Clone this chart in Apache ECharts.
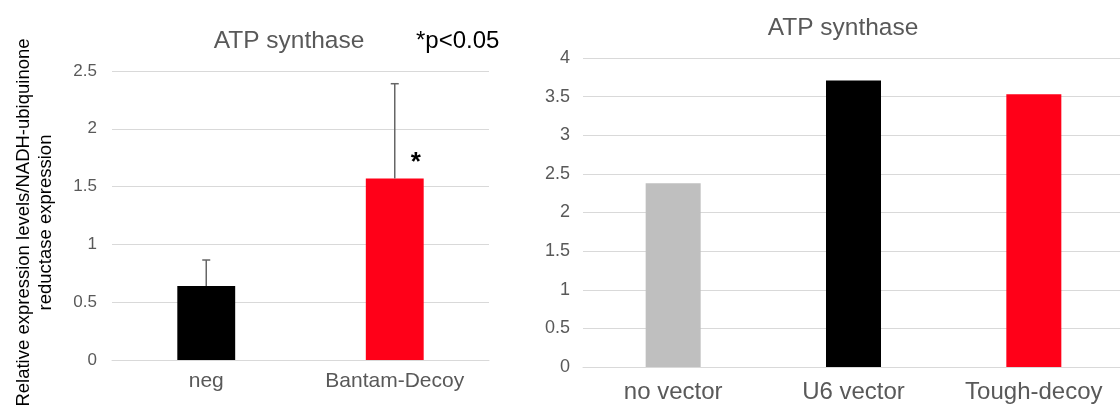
<!DOCTYPE html>
<html>
<head>
<meta charset="utf-8">
<title>ATP synthase</title>
<script src="https://cdn.jsdelivr.net/npm/echarts@6/dist/echarts.min.js"></script>
<style>
  html, body { margin: 0; padding: 0; background: #fff; }
  #chart { width: 1120px; height: 407px; }
</style>
</head>
<body>
<div id="chart"></div>
<script>
// left panel: relative expression with error bars
var leftCategories = ['neg', 'Bantam-Decoy']
var leftValues = [0.64, 1.57]
var leftErrors = [0.225, 0.82]
var leftSignif = ['', '*']
var leftTicks = [0, 0.5, 1, 1.5, 2, 2.5]

// right panel
var rightCategories = ['no vector', 'U6 vector', 'Tough-decoy']
var rightValues = [2.38, 3.71, 3.53]
var rightTicks = [0, 0.5, 1, 1.5, 2, 2.5, 3, 3.5, 4]

var leftColors = ['#000000', '#ff0018']
var rightColors = ['#bfbfbf', '#000000', '#ff0018']
var FONT = '"Liberation Sans", Arial, Helvetica, sans-serif'
var GRAY = '#595959'

var chart = echarts.init(document.getElementById('chart'), null, { renderer: 'canvas' })

function valueAxis(gridIndex, ticks, fontSize, margin, extra) {
  var ax = {
    type: 'value',
    gridIndex: gridIndex,
    min: ticks[0],
    max: ticks[ticks.length - 1],
    interval: ticks[1] - ticks[0],
    axisLine: { show: false },
    axisTick: { show: false },
    axisLabel: { color: GRAY, fontSize: fontSize, fontFamily: FONT, margin: margin },
    splitLine: { lineStyle: { color: '#d9d9d9', width: 1 } }
  }
  return Object.assign(ax, extra || {})
}

function categoryAxis(gridIndex, cats, fontSize, margin) {
  return {
    type: 'category',
    gridIndex: gridIndex,
    data: cats,
    axisLine: { show: true, lineStyle: { color: '#d9d9d9' } },
    axisTick: { show: false },
    axisLabel: { color: GRAY, fontSize: fontSize, fontFamily: FONT, margin: margin }
  }
}

chart.setOption({
  animation: false,
  title: [
    {
      text: 'ATP synthase',
      left: 284,
      top: 24,
      textAlign: 'center',
      textStyle: { color: GRAY, fontSize: 24.5, fontWeight: 'normal', fontFamily: FONT }
    },
    {
      text: '*p<0.05',
      left: 411,
      top: 24,
      textStyle: { color: '#000', fontSize: 24, fontWeight: 'normal', fontFamily: FONT }
    },
    {
      text: 'ATP synthase',
      left: 838,
      top: 11,
      textAlign: 'center',
      textStyle: { color: GRAY, fontSize: 24.5, fontWeight: 'normal', fontFamily: FONT }
    }
  ],
  grid: [
    { left: 112, right: 631, top: 71, bottom: 47, outerBoundsMode: 'none' },
    { left: 583, right: -4, top: 58, bottom: 40, outerBoundsMode: 'none' }
  ],
  xAxis: [
    categoryAxis(0, leftCategories, 21, 11),
    categoryAxis(1, rightCategories, 24, 13)
  ],
  yAxis: [
    valueAxis(0, leftTicks, 17, 15, {
      name: 'Relative expression levels/NADH-ubiquinone\nreductase expression',
      nameLocation: 'middle',
      nameRotate: 90,
      nameGap: 55,
      nameTextStyle: {
        color: '#000', fontSize: 18.5, fontFamily: FONT, lineHeight: 22, align: 'center',
        padding: [0, 0, 0, -14]
      }
    }),
    valueAxis(1, rightTicks, 18, 13)
  ],
  series: [
    {
      type: 'bar',
      xAxisIndex: 0,
      yAxisIndex: 0,
      barWidth: '30.7%',
      data: leftValues,
      itemStyle: {
        color: function (p) { return leftColors[p.dataIndex] }
      }
    },
    {
      type: 'custom',
      xAxisIndex: 0,
      yAxisIndex: 0,
      z: 5,
      data: leftValues.map(function (v, i) { return [i, v, leftErrors[i]] }),
      renderItem: function (params, api) {
        var i = api.value(0)
        var mean = api.value(1)
        var err = api.value(2)
        var base = api.coord([i, mean])
        var top = api.coord([i, mean + err])
        var style = { stroke: '#666', lineWidth: 1.5 }
        var children = [
          { type: 'line', shape: { x1: base[0], y1: base[1], x2: top[0], y2: top[1] }, style: style },
          { type: 'line', shape: { x1: top[0] - 4, y1: top[1], x2: top[0] + 4, y2: top[1] }, style: style }
        ]
        var mark = leftSignif[params.dataIndex]
        if (mark) {
          var p = api.coord([i, mean + 0.17])
          children.push({
            type: 'text',
            x: p[0] + 21,
            y: p[1] + 4,
            style: {
              text: mark, fill: '#000', fontSize: 26, fontWeight: 'bold', fontFamily: FONT,
              align: 'center', verticalAlign: 'middle'
            }
          })
        }
        return { type: 'group', children: children }
      }
    },
    {
      type: 'bar',
      xAxisIndex: 1,
      yAxisIndex: 1,
      barWidth: '30.5%',
      data: rightValues,
      itemStyle: {
        color: function (p) { return rightColors[p.dataIndex] }
      }
    }
  ]
})
</script>
</body>
</html>
